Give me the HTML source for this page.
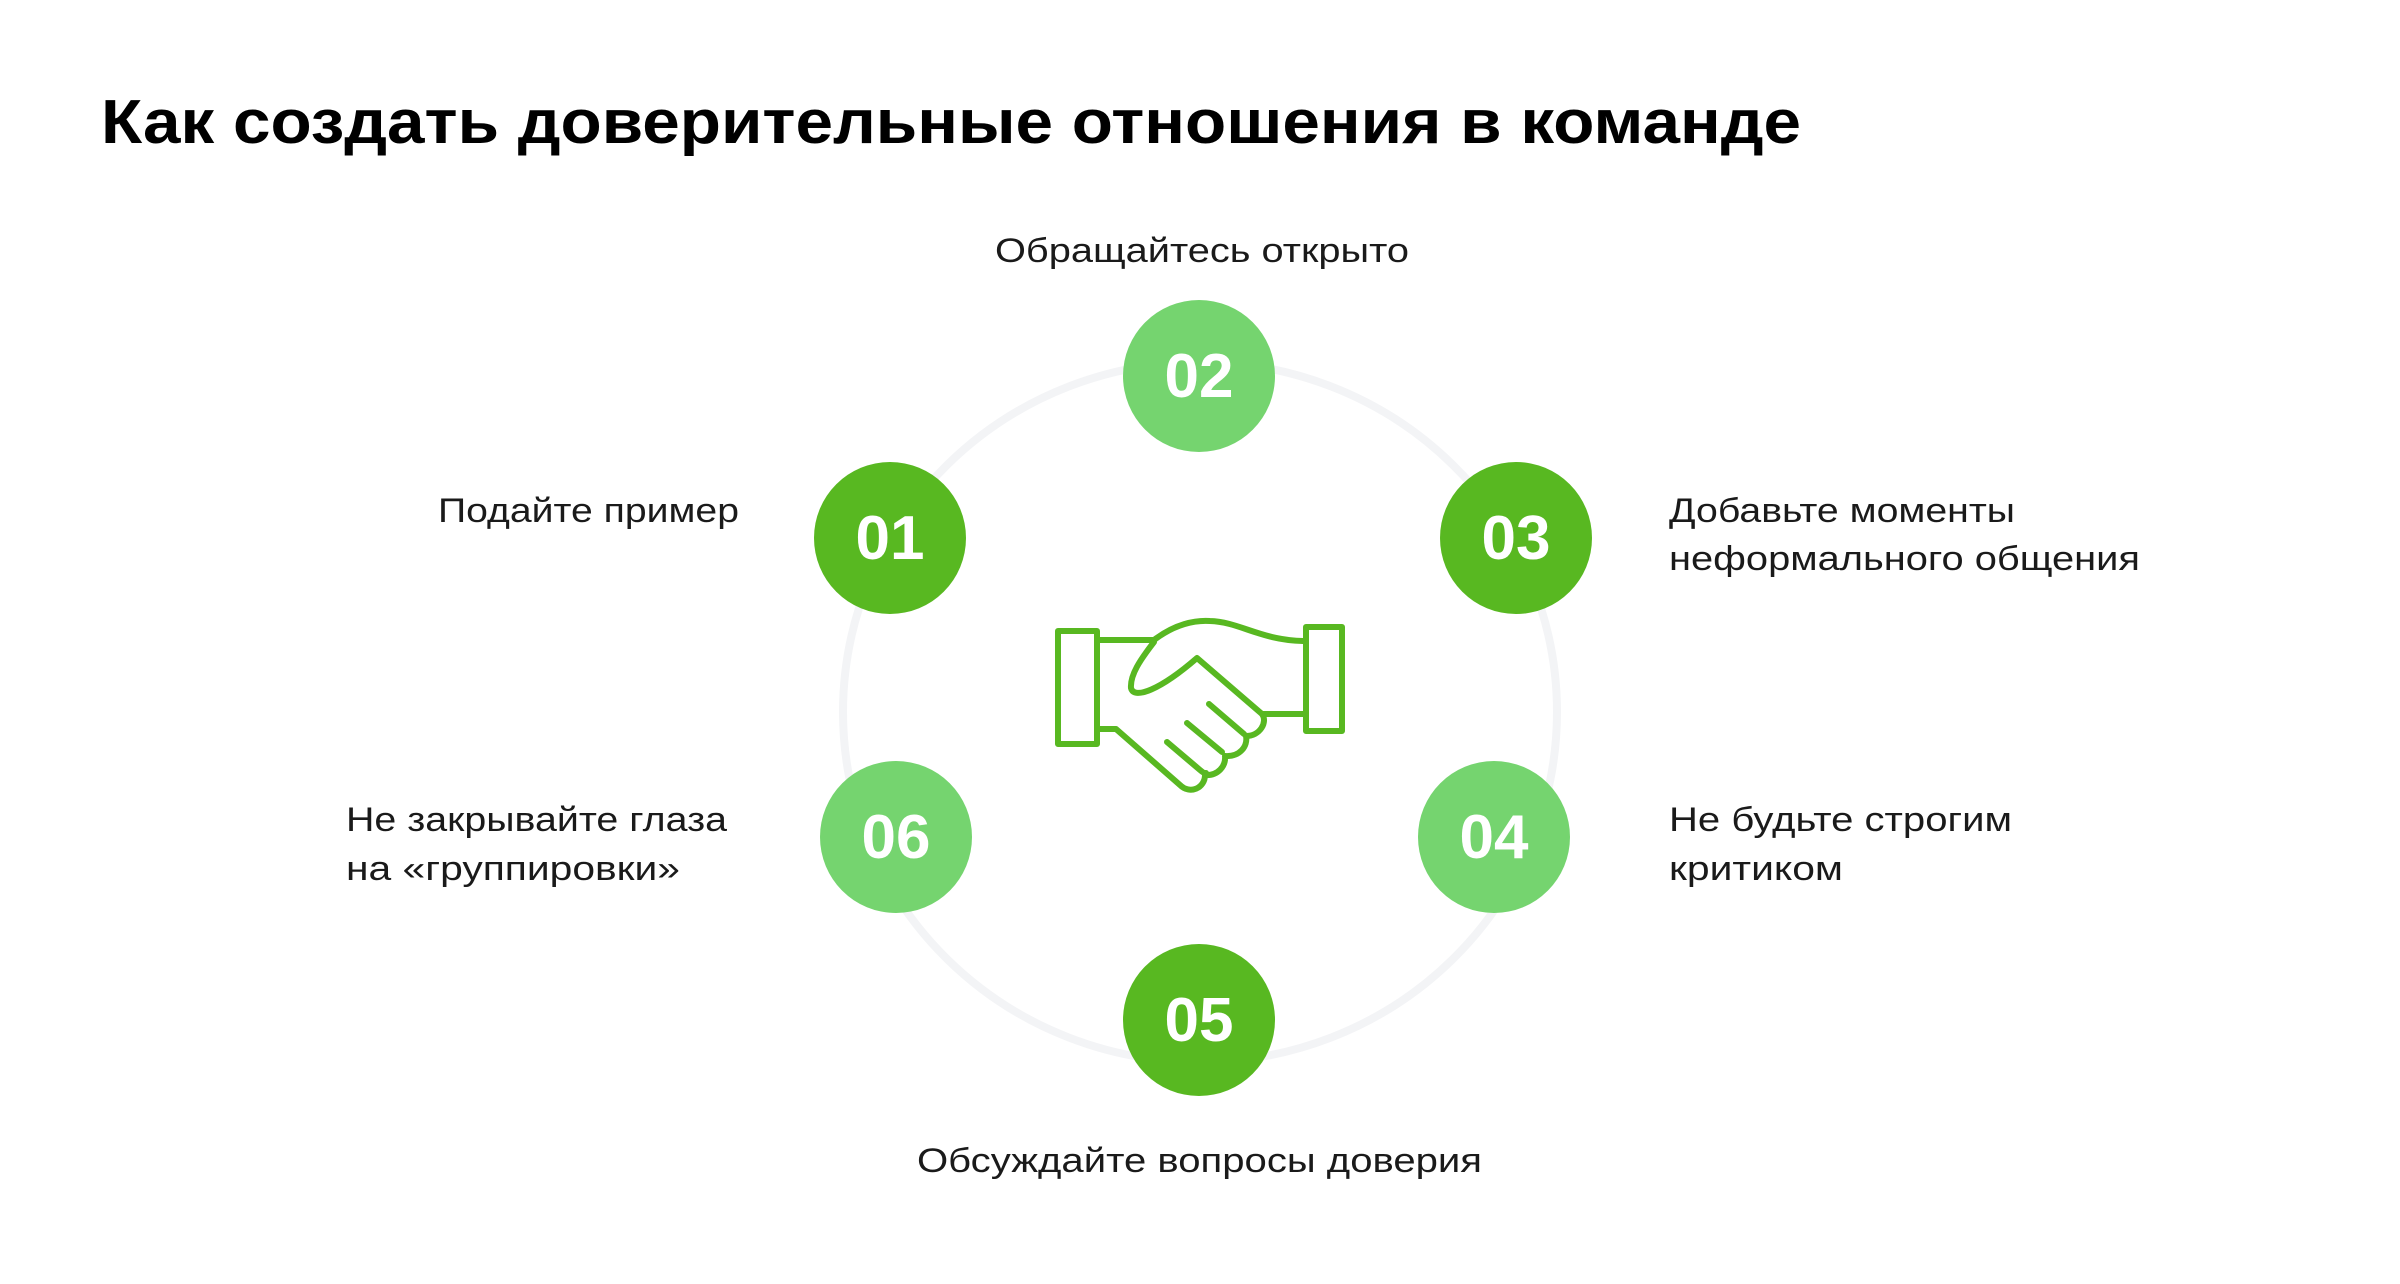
<!DOCTYPE html>
<html><head><meta charset="utf-8"><style>html,body{margin:0;padding:0;background:#fff;}svg{display:block}</style></head>
<body>
<svg width="2400" height="1284" viewBox="0 0 2400 1284" xmlns="http://www.w3.org/2000/svg">
<rect width="2400" height="1284" fill="#fff"/>
<text x="101" y="143" font-family="Liberation Sans, sans-serif" font-weight="bold" font-size="62" fill="#000" textLength="1700" lengthAdjust="spacingAndGlyphs">Как создать доверительные отношения в команде</text>
<ellipse cx="1200" cy="712" rx="357" ry="350" fill="none" stroke="#f3f4f6" stroke-width="8"/>
<g font-family="Liberation Sans, sans-serif" font-size="34" fill="#1a1a1a">
<text x="995" y="262" textLength="414" lengthAdjust="spacingAndGlyphs">Обращайтесь открыто</text>
<text x="438" y="522" textLength="301" lengthAdjust="spacingAndGlyphs">Подайте пример</text>
<text x="1669" y="522" textLength="346" lengthAdjust="spacingAndGlyphs">Добавьте моменты</text>
<text x="1669" y="570" textLength="471" lengthAdjust="spacingAndGlyphs">неформального общения</text>
<text x="346" y="831" textLength="381" lengthAdjust="spacingAndGlyphs">Не закрывайте глаза</text>
<text x="346" y="880" textLength="334" lengthAdjust="spacingAndGlyphs">на «группировки»</text>
<text x="1669" y="831" textLength="343" lengthAdjust="spacingAndGlyphs">Не будьте строгим</text>
<text x="1669" y="880" textLength="174" lengthAdjust="spacingAndGlyphs">критиком</text>
<text x="917" y="1172" textLength="565" lengthAdjust="spacingAndGlyphs">Обсуждайте вопросы доверия</text>
</g>
<g font-family="Liberation Sans, sans-serif" font-weight="bold" font-size="62" fill="#fff" text-anchor="middle">
<circle cx="1199" cy="376" r="76" fill="#75d46f"/><text x="1199" y="397">02</text>
<circle cx="890" cy="538" r="76" fill="#58b821"/><text x="890" y="559">01</text>
<circle cx="1516" cy="538" r="76" fill="#58b821"/><text x="1516" y="559">03</text>
<circle cx="896" cy="837" r="76" fill="#75d46f"/><text x="896" y="858">06</text>
<circle cx="1494" cy="837" r="76" fill="#75d46f"/><text x="1494" y="858">04</text>
<circle cx="1199" cy="1020" r="76" fill="#58b821"/><text x="1199" y="1041">05</text>
</g>
<g fill="none" stroke="#58b821" stroke-width="6" stroke-linejoin="round" stroke-linecap="round">
<rect x="1058" y="631" width="39" height="113"/>
<rect x="1306" y="627" width="36" height="104"/>
<path d="M1097 640 H1154 C1175 624 1195 620 1210 621 C1240 622 1260 640 1303 641"/>
<path d="M1154 642 C1140 660 1130 675 1131 688 C1134 700 1160 690 1197 658 L1262 714 H1303"/>
<path d="M1097 729 H1116 L1180 785 C1190 795 1205 788 1205 775 M1205 775 C1218 776 1226 766 1225 756 C1240 757 1248 746 1246 736 C1260 736 1268 722 1262 714"/>
<path d="M1167 742 L1200 770 C1208 777 1206 770 1205 775 M1187 723 L1222 752 M1209 704 L1244 734"/>
</g>
</svg>
</body></html>
